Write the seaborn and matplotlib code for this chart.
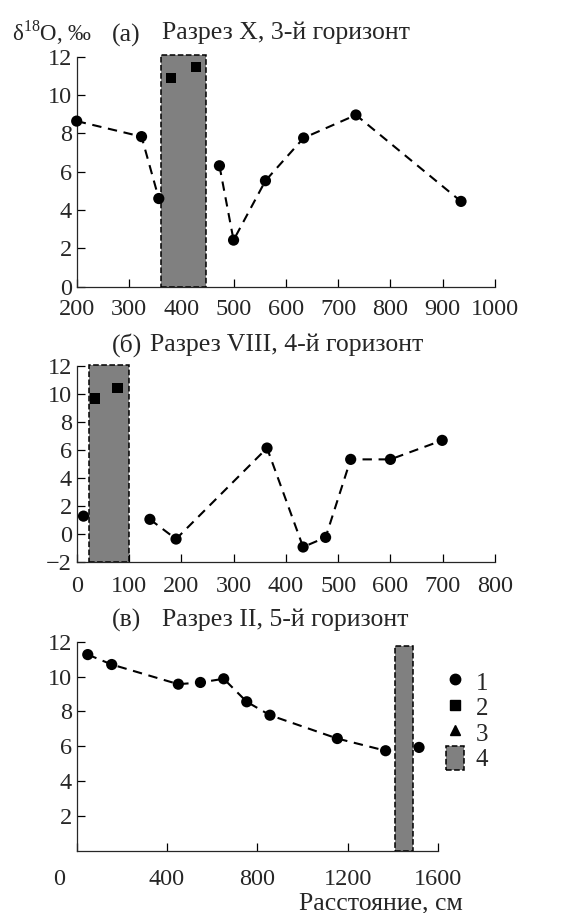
import matplotlib
matplotlib.use("Agg")
import matplotlib.pyplot as plt
import matplotlib.transforms as mtrans
from matplotlib.lines import Line2D
from matplotlib.patches import Patch
import seaborn as sns
import pandas as pd

# (а) Разрез X, 3-й горизонт
a_x = [200, 324, 357, 473, 500, 561, 634, 734, 935]
a_y = [8.64, 7.83, 4.6, 6.31, 2.43, 5.53, 7.76, 8.96, 4.45]
a_sq_x = [381, 428]
a_sq_y = [10.9, 11.48]
a_zone = [361, 447, 12.1]

# (б) Разрез VIII, 4-й горизонт
b_x = [13, 140, 190, 364, 433, 476, 524, 600, 699]
b_y = [1.26, 1.03, -0.38, 6.13, -0.95, -0.26, 5.32, 5.32, 6.68]
b_sq_x = [35, 78]
b_sq_y = [9.68, 10.45]
b_zone = [23, 100, 12.1]

# (в) Разрез II, 5-й горизонт
c_x = [49, 155, 450, 548, 651, 753, 856, 1154, 1368, 1516]
c_y = [11.26, 10.69, 9.56, 9.66, 9.87, 8.55, 7.78, 6.44, 5.74, 5.93]
c_zone = [1411, 1488, 11.74]

sns.set_style("ticks")
plt.rcParams['font.family'] = ['Liberation Serif', 'DejaVu Serif']
plt.rcParams['mathtext.fontset'] = 'custom'
plt.rcParams['mathtext.rm'] = 'Liberation Serif'
plt.rcParams['font.size'] = 17.5
plt.rcParams['axes.linewidth'] = 0.9
plt.rcParams['xtick.direction'] = 'in'
plt.rcParams['ytick.direction'] = 'in'

W, H = 565, 913
fig = plt.figure(figsize=(W / 100, H / 100), dpi=100)


def box(l, t, r, b):
    return [l / W, 1 - b / H, (r - l) / W, (b - t) / H]


ax_a = fig.add_axes(box(76.7, 56.7, 495, 286.7))
ax_b = fig.add_axes(box(76.7, 366, 495, 561.7))
ax_c = fig.add_axes(box(76.7, 641.7, 438, 850.7))

line_kw = dict(color='black', linestyle=(0, (4.5, 3.2)), linewidth=1.5, sort=False,
               zorder=1)
dot_kw = dict(color='black', marker='o', s=65, edgecolor='none', clip_on=False,
              zorder=4)
sq_kw = dict(color='black', marker='s', s=55, edgecolor='none', clip_on=False,
             zorder=4)


def zone(ax, z, bottom):
    ax.bar(z[0], z[2] - bottom, width=z[1] - z[0], bottom=bottom, align='edge',
           color='#808080', edgecolor='black', linestyle='--', linewidth=1.1,
           zorder=2, clip_on=False)


# panel a
zone(ax_a, a_zone, 0)
sns.lineplot(x=a_x[:3], y=a_y[:3], ax=ax_a, **line_kw)
sns.lineplot(x=a_x[3:], y=a_y[3:], ax=ax_a, **line_kw)
sns.scatterplot(x=a_x, y=a_y, ax=ax_a, **dot_kw)
sns.scatterplot(x=a_sq_x, y=a_sq_y, ax=ax_a, **sq_kw)
ax_a.set_xlim(200, 1000)
ax_a.set_ylim(0, 12)
ax_a.set_xticks(range(200, 1001, 100))
ax_a.set_yticks(range(0, 13, 2))

# panel b
zone(ax_b, b_zone, -2)
sns.lineplot(x=b_x[1:], y=b_y[1:], ax=ax_b, **line_kw)
sns.scatterplot(x=b_x, y=b_y, ax=ax_b, **dot_kw)
sns.scatterplot(x=b_sq_x, y=b_sq_y, ax=ax_b, **sq_kw)
ax_b.set_xlim(0, 800)
ax_b.set_ylim(-2, 12)
ax_b.set_xticks(range(0, 801, 100))
ax_b.set_yticks(range(-2, 13, 2))
ax_b.set_yticklabels([str(v).replace('-', '\u2212') for v in range(-2, 13, 2)])

# panel c
zone(ax_c, c_zone, 0)
sns.lineplot(x=c_x[:9], y=c_y[:9], ax=ax_c, **line_kw)
sns.scatterplot(x=c_x, y=c_y, ax=ax_c, **dot_kw)
ax_c.set_xlim(0, 1600)
ax_c.set_ylim(0, 12)
ax_c.set_xticks(range(0, 1601, 400))
ax_c.set_yticks(range(2, 13, 2))

for ax in (ax_a, ax_b, ax_c):
    sns.despine(ax=ax)
    ax.tick_params(length=6, width=0.9, color='black')
    ax.tick_params(axis='y', pad=3.5)
    ax.set_xlabel('')
    ax.set_ylabel('')
ax_a.tick_params(axis='x', pad=9)
ax_b.tick_params(axis='x', pad=10.5)
ax_c.tick_params(axis='x', pad=13)

# shift the "0" label of panel c to the left
lab0 = ax_c.get_xticklabels()[0]
lab0.set_transform(lab0.get_transform()
                   + mtrans.ScaledTranslation(-18 / 100, 0, fig.dpi_scale_trans))


# titles
def ftext(x, y, s, size=18.5, **kw):
    fig.text(x / W, 1 - y / H, s, va='center', fontsize=size, **kw)


ftext(12, 33, 'δ$^{\\mathregular{18}}$O, ‰', size=16.5)
ftext(112, 35, '(а)')
ftext(162, 33, 'Разрез X, 3-й горизонт')
ftext(112, 345, '(б)')
ftext(150, 345, 'Разрез VIII, 4-й горизонт')
ftext(112, 620, '(в)')
ftext(162, 620, 'Разрез II, 5-й горизонт')
fig.text(463 / W, 1 - 903 / H, 'Расстояние, см', ha='right', va='center',
         fontsize=18.5)

handles = [
    Line2D([], [], color='black', marker='o', linestyle='none', markersize=7.5),
    Line2D([], [], color='black', marker='s', linestyle='none', markersize=6.5),
    Line2D([], [], color='black', marker='^', linestyle='none', markersize=7),
    Patch(facecolor='#808080', edgecolor='black', linestyle='--', linewidth=1.1),
]
fig.legend(handles, ['1', '2', '3', '4'], loc='center left',
           bbox_to_anchor=(446 / W, 1 - 720 / H), frameon=False, fontsize=18,
           handlelength=0.7, handleheight=1.1, handletextpad=0.5,
           labelspacing=0.0, borderpad=0, borderaxespad=0)

fig.savefig('out.png', dpi=100)
